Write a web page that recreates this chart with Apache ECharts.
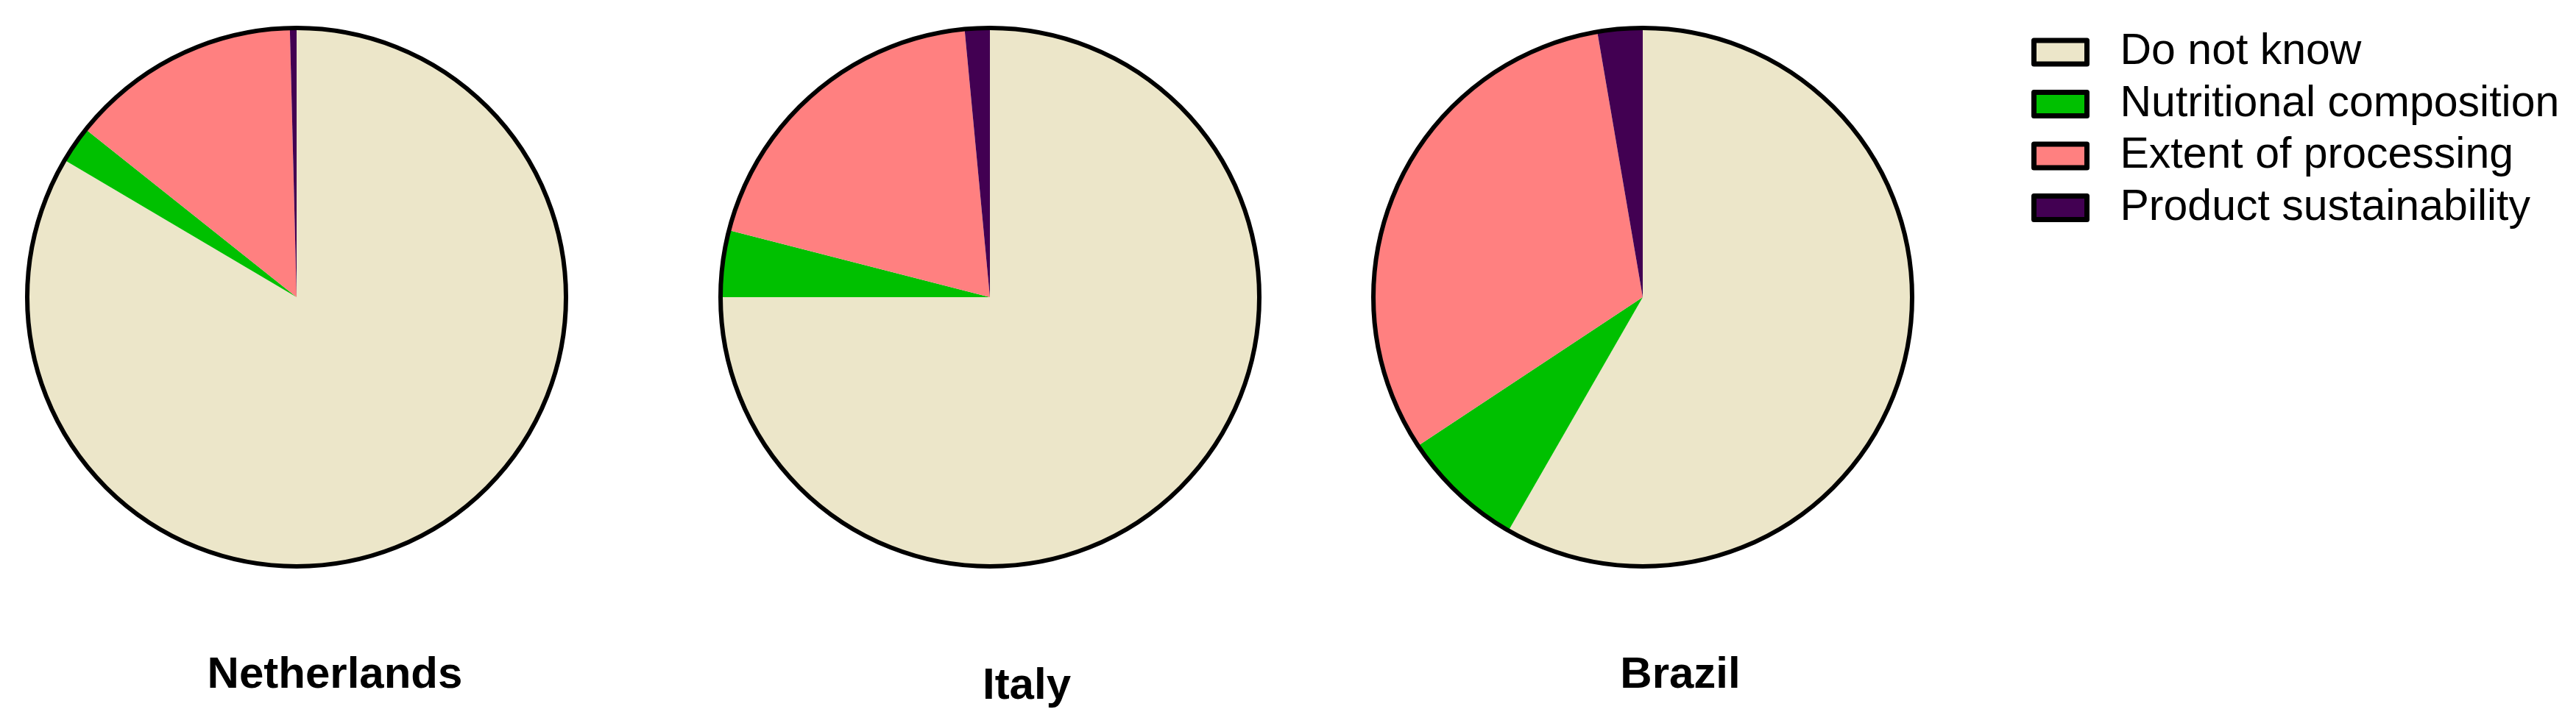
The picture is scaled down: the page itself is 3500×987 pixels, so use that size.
<!DOCTYPE html>
<html>
<head>
<meta charset="utf-8">
<script src="https://cdn.jsdelivr.net/npm/echarts@6/dist/echarts.min.js"></script>
<style>
html,body{margin:0;padding:0;background:#fff;}
#chart{width:3500px;height:987px;}
</style>
</head>
<body>
<div id="chart"></div>
<script>
const categories = ['Do not know', 'Nutritional composition', 'Extent of processing', 'Product sustainability'];
const countries = ['Netherlands', 'Italy', 'Brazil'];
const netherlands = [83.5, 2.2, 13.9, 0.4];
const italy = [75.0, 4.0, 19.5, 1.5];
const brazil = [58.3, 7.4, 31.6, 2.7];
const colors = ['#ECE6C9', '#00C000', '#FF8080', '#420052'];

const seriesValues = [netherlands, italy, brazil];
const centers = [[403, 404], [1345, 404], [2232, 404]];
const labelX = [455, 1395, 2283];
const labelTop = [888, 903, 888];
const R = 366;

const chart = echarts.init(document.getElementById('chart'), null, {renderer: 'canvas'});
const series = [];
seriesValues.forEach((vals, i) => {
  series.push({
    type: 'pie',
    name: countries[i],
    center: centers[i],
    radius: R,
    startAngle: 90,
    clockwise: true,
    animation: false,
    silent: true,
    label: {show: false},
    labelLine: {show: false},
    itemStyle: {borderWidth: 0},
    data: categories.map((c, j) => ({name: c, value: vals[j], itemStyle: {color: colors[j]}}))
  });
  series.push({
    type: 'pie',
    name: countries[i] + ' outline',
    center: centers[i],
    radius: R,
    animation: false,
    silent: true,
    z: 5,
    label: {show: false},
    labelLine: {show: false},
    itemStyle: {color: 'none', borderColor: '#000', borderWidth: 6},
    data: [{name: 'outline', value: 1}]
  });
});

const option = {
  backgroundColor: '#ffffff',
  animation: false,
  color: colors,
  title: countries.map((c, i) => ({
    text: c,
    left: labelX[i],
    top: labelTop[i],
    textAlign: 'center',
    padding: 0,
    textStyle: {fontFamily: 'Liberation Sans, Arial, sans-serif', fontWeight: 'bold', fontSize: 60, color: '#000'}
  })),
  legend: {
    orient: 'vertical',
    left: 2760,
    top: 41,
    data: categories,
    icon: 'rect',
    itemWidth: 72,
    itemHeight: 32,
    itemGap: 10.5,
    padding: 0,
    selectedMode: false,
    itemStyle: {borderColor: '#000', borderWidth: 7},
    textStyle: {fontFamily: 'Liberation Sans, Arial, sans-serif', fontSize: 59, color: '#000', lineHeight: 60, padding: [0, 0, 0, 40]}
  },
  series: series
};
chart.setOption(option);
</script>
</body>
</html>
